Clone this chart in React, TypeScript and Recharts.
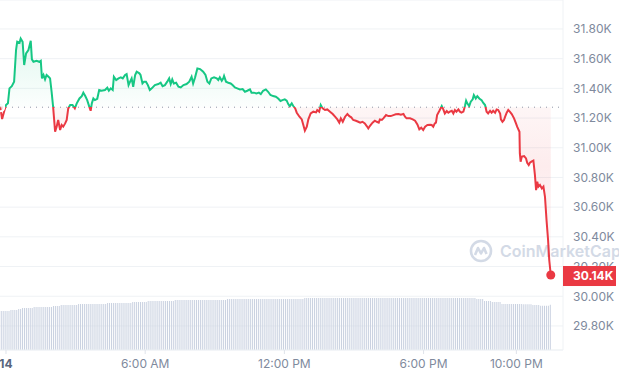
import {
  ComposedChart,
  Line,
  Area,
  Bar,
  XAxis,
  YAxis,
  CartesianGrid,
  ReferenceLine,
  ReferenceDot,
} from 'recharts';

// minutes from midnight (Jul 14)
const priceTimes = [
  -15, -10, -5, 0, 5, 9, 15, 21, 26, 29,
  35, 38, 43, 47, 52, 58, 64, 67, 71, 79,
  86, 90, 93, 97, 101, 105, 110, 114, 118, 122,
  127, 131, 135, 140, 144, 148, 153, 157, 161, 166,
  172, 178, 183, 190, 196, 200, 205, 210, 216, 219,
  222, 226, 230, 236, 241, 247, 256, 262, 266, 271,
  276, 279, 285, 291, 297, 302, 308, 312, 317, 321,
  325, 329, 334, 338, 345, 348, 353, 357, 362, 367,
  372, 377, 385, 394, 400, 405, 411, 417, 422, 426,
  430, 434, 440, 446, 452, 459, 467, 474, 480, 484,
  489, 495, 502, 510, 516, 521, 526, 531, 538, 545,
  549, 553, 558, 562, 564, 569, 575, 581, 586, 592,
  598, 605, 612, 618, 624, 631, 635, 641, 648, 654,
  659, 665, 672, 678, 684, 691, 698, 704, 710, 715,
  721, 726, 730, 734, 739, 743, 748, 752, 759, 765,
  769, 773, 778, 782, 788, 795, 802, 805, 810, 814,
  819, 825, 831, 838, 845, 851, 857, 862, 866, 871,
  877, 883, 888, 893, 898, 905, 911, 916, 922, 928,
  933, 937, 941, 948, 954, 959, 964, 967, 972, 976,
  983, 989, 995, 1002, 1008, 1015, 1021, 1028, 1032, 1036,
  1045, 1052, 1058, 1064, 1069, 1074, 1079, 1084, 1090, 1097,
  1101, 1105, 1109, 1112, 1115, 1121, 1127, 1131, 1135, 1140,
  1144, 1148, 1153, 1157, 1161, 1165, 1170, 1174, 1178, 1183,
  1187, 1190, 1193, 1198, 1202, 1207, 1210, 1215, 1219, 1224,
  1230, 1234, 1239, 1243, 1247, 1252, 1256, 1260, 1265, 1269,
  1273, 1278, 1280, 1284, 1288, 1291, 1295, 1299, 1303, 1308,
  1314, 1319, 1322, 1328, 1329, 1331, 1334, 1340, 1345, 1348,
  1352, 1355, 1359, 1364, 1368, 1371, 1374, 1377, 1381, 1386,
  1390, 1394, 1398, 1402, 1405, 1409,
];

const priceValues = [
  31272, 31193, 31243, 31288, 31299, 31400, 31415, 31445, 31658, 31714,
  31707, 31736, 31714, 31557, 31635, 31658, 31721, 31595, 31579, 31586,
  31579, 31586, 31467, 31490, 31460, 31490, 31478, 31467, 31377, 31272,
  31108, 31142, 31187, 31119, 31153, 31142, 31164, 31187, 31265, 31288,
  31288, 31265, 31299, 31332, 31348, 31371, 31348, 31321, 31272, 31249,
  31299, 31332, 31321, 31330, 31389, 31384, 31389, 31404, 31384, 31400,
  31389, 31478, 31456, 31467, 31474, 31467, 31490, 31496, 31422, 31445,
  31467, 31411, 31490, 31512, 31501, 31490, 31433, 31445, 31445, 31422,
  31389, 31400, 31422, 31429, 31438, 31415, 31422, 31445, 31467, 31429,
  31460, 31433, 31438, 31411, 31406, 31422, 31429, 31445, 31478, 31433,
  31474, 31534, 31530, 31512, 31490, 31445, 31433, 31467, 31474, 31467,
  31456, 31474, 31451, 31467, 31483, 31445, 31438, 31433, 31422, 31406,
  31400, 31393, 31395, 31377, 31384, 31393, 31371, 31371, 31366, 31371,
  31362, 31384, 31393, 31377, 31355, 31348, 31344, 31332, 31315, 31321,
  31326, 31317, 31294, 31280, 31299, 31281, 31265, 31236, 31209, 31191,
  31153, 31115, 31142, 31191, 31231, 31243, 31238, 31254, 31243, 31288,
  31265, 31254, 31258, 31243, 31227, 31209, 31191, 31169, 31198, 31175,
  31209, 31227, 31213, 31205, 31187, 31182, 31175, 31169, 31175, 31164,
  31146, 31130, 31146, 31169, 31182, 31175, 31169, 31191, 31187, 31198,
  31220, 31213, 31213, 31220, 31225, 31227, 31222, 31227, 31209, 31198,
  31198, 31191, 31182, 31157, 31124, 31135, 31119, 31142, 31153, 31155,
  31153, 31142, 31164, 31169, 31220, 31249, 31281, 31258, 31231, 31247,
  31236, 31243, 31249, 31231, 31254, 31243, 31258, 31243, 31236, 31243,
  31281, 31317, 31299, 31281, 31310, 31326, 31355, 31332, 31348, 31332,
  31321, 31303, 31288, 31243, 31231, 31249, 31236, 31249, 31236, 31258,
  31254, 31231, 31191, 31175, 31187, 31209, 31236, 31254, 31243, 31227,
  31198, 31164, 31142, 31108, 30962, 30906, 30940, 30944, 30928, 30899,
  30884, 30899, 30906, 30913, 30816, 30715, 30771, 30738, 30749, 30726,
  30738, 30670, 30513, 30379, 30244, 30143,
];

// 5-minute volume bars, [volume in $M, number of bars]
const volumeRuns: [number, number][] = [
  [11140, 5], [11430, 4], [11710, 2], [12000, 6], [12290, 10], [12570, 4],
  [12860, 9], [13140, 15], [13430, 13], [13710, 8], [14000, 14], [14290, 27],
  [14570, 40], [14860, 89], [14570, 4], [14000, 4], [13710, 5], [13140, 11],
  [13060, 5], [12860, 4], [12660, 5], [12940, 1],
];
const volumeStart = -11;

const openPrice = 31273;
const priceTicks = [29800, 30000, 30200, 30400, 30600, 30800, 31000, 31200, 31400, 31600, 31800];
const xTickTimes = [0, 360, 720, 1080, 1320];
const xTickLabels = ['14', '6:00 AM', '12:00 PM', '6:00 PM', '10:00 PM'];

const W = 619;
const H = 376;
const X_DOMAIN: [number, number] = [-15.5, 1440.6];
const Y_DOMAIN: [number, number] = [29638, 31995];
const GREEN = '#16c784';
const RED = '#ea3943';
const GRID = '#eff2f5';
const LABEL = '#808a9d';
const MARK = '#d3dae6';

const priceData = priceTimes.map((t, i) => ({ t, p: priceValues[i] }));

const volumeData: { t: number; v: number }[] = [];
volumeRuns.forEach(([v, n]) => {
  for (let k = 0; k < n; k++) {
    volumeData.push({ t: volumeStart + 5 * volumeData.length, v });
  }
});

const maxP = Math.max(...priceValues);
const minP = Math.min(...priceValues);
const split = (maxP - openPrice) / (maxP - minP);
const last = priceData[priceData.length - 1];

const fmtK = (v: number) => `${(v / 1000).toFixed(2)}K`;

function XTick({ x, y, payload }: any) {
  const i = xTickTimes.indexOf(payload.value);
  const first = i === 0;
  return (
    <text
      x={x}
      y={y}
      dy={10}
      textAnchor="middle"
      fontSize={12}
      fontWeight={first ? 700 : 400}
      fill={first ? '#58667e' : LABEL}
    >
      {xTickLabels[i] ?? ''}
    </text>
  );
}

function PriceBadge({ viewBox }: any) {
  const { x, y, width } = viewBox;
  const left = x + width;
  return (
    <g>
      <rect x={left} y={y - 9} width={53} height={20} fill={RED} />
      <text x={left + 10} y={y + 1} dy="0.355em" fontSize={12} fontWeight={700} fill="#fff">
        {fmtK(last.p)}
      </text>
    </g>
  );
}

function Watermark() {
  return (
    <div
      style={{
        position: 'absolute',
        left: 469,
        top: 238,
        height: 26,
        display: 'flex',
        alignItems: 'center',
        color: MARK,
        whiteSpace: 'nowrap',
      }}
    >
      <svg width={24} height={24} viewBox="0 0 24 24">
        <circle cx={12} cy={12} r={10} fill="none" stroke={MARK} strokeWidth={2.6} />
        <path d="M6 16 L9 9 L12 14.5 L15 9 L17.5 15" fill="none" stroke={MARK} strokeWidth={2.6} strokeLinejoin="round" />
      </svg>
      <span style={{ marginLeft: 7, fontSize: 16, fontWeight: 600 }}>CoinMarketCap</span>
    </div>
  );
}

export default function App() {
  return (
    <div
      style={{
        position: 'absolute',
        left: 0,
        top: 0,
        width: W,
        height: H,
        overflow: 'hidden',
        background: '#fff',
        fontFamily: 'Inter, "Noto Sans", sans-serif',
      }}
    >
      {/* 网格、坐标轴和成交量 */}
      <div style={{ position: 'absolute', left: 0, top: 0 }}>
        <ComposedChart width={W} height={H} data={volumeData} margin={{ top: 0, right: 0, bottom: 0, left: 0 }}>
          <CartesianGrid vertical={false} stroke={GRID} yAxisId="price" />
          <XAxis
            dataKey="t"
            type="number"
            domain={X_DOMAIN}
            allowDataOverflow
            ticks={xTickTimes}
            height={26}
            tickSize={4}
            tickMargin={4}
            stroke={GRID}
            tickLine={{ stroke: '#dfe3ea' }}
            tick={<XTick />}
          />
          <YAxis
            yAxisId="price"
            orientation="right"
            width={56}
            domain={Y_DOMAIN}
            allowDataOverflow
            ticks={priceTicks}
            tickFormatter={fmtK}
            tickLine={false}
            tickMargin={4}
            stroke={GRID}
            tick={{ fill: LABEL, fontSize: 12 }}
          />
          <YAxis yAxisId="vol" hide domain={[0, 100000]} />
          <Bar
            yAxisId="vol"
            dataKey="v"
            fill="#c9d1e0"
            barSize={1}
            isAnimationActive={false}
          />
        </ComposedChart>
      </div>

      <Watermark />

      {/* 价格曲线 */}
      <div style={{ position: 'absolute', left: 0, top: 0 }}>
        <ComposedChart width={W} height={H} data={priceData} margin={{ top: 0, right: 56, bottom: 26, left: 0 }}>
          <defs>
            <linearGradient id="priceStroke" x1="0" y1="0" x2="0" y2="1">
              <stop offset={0} stopColor={GREEN} />
              <stop offset={split} stopColor={GREEN} />
              <stop offset={split} stopColor={RED} />
              <stop offset={1} stopColor={RED} />
            </linearGradient>
            <linearGradient id="priceFill" x1="0" y1="0" x2="0" y2="1">
              <stop offset={0} stopColor={GREEN} stopOpacity={0.22} />
              <stop offset={split} stopColor={GREEN} stopOpacity={0.02} />
              <stop offset={split} stopColor={RED} stopOpacity={0.08} />
              <stop offset={Math.min(split + 0.25, 1)} stopColor={RED} stopOpacity={0.16} />
              <stop offset={1} stopColor={RED} stopOpacity={0.02} />
            </linearGradient>
          </defs>
          <XAxis dataKey="t" type="number" domain={X_DOMAIN} allowDataOverflow hide />
          <YAxis domain={Y_DOMAIN} allowDataOverflow hide />
          <Area
            type="linear"
            dataKey="p"
            baseValue={openPrice}
            fill="url(#priceFill)"
            stroke="none"
            isAnimationActive={false}
          />
          <ReferenceLine y={openPrice} stroke="#8f97a8" strokeWidth={1} strokeDasharray="1 5" />
          <Line
            type="linear"
            dataKey="p"
            stroke="url(#priceStroke)"
            strokeWidth={2}
            dot={false}
            activeDot={false}
            isAnimationActive={false}
          />
          <ReferenceLine y={last.p} stroke="none" strokeOpacity={0} label={<PriceBadge />} />
          <ReferenceDot x={last.t} y={last.p} r={4.5} fill={RED} stroke="none" />
        </ComposedChart>
      </div>
    </div>
  );
}
